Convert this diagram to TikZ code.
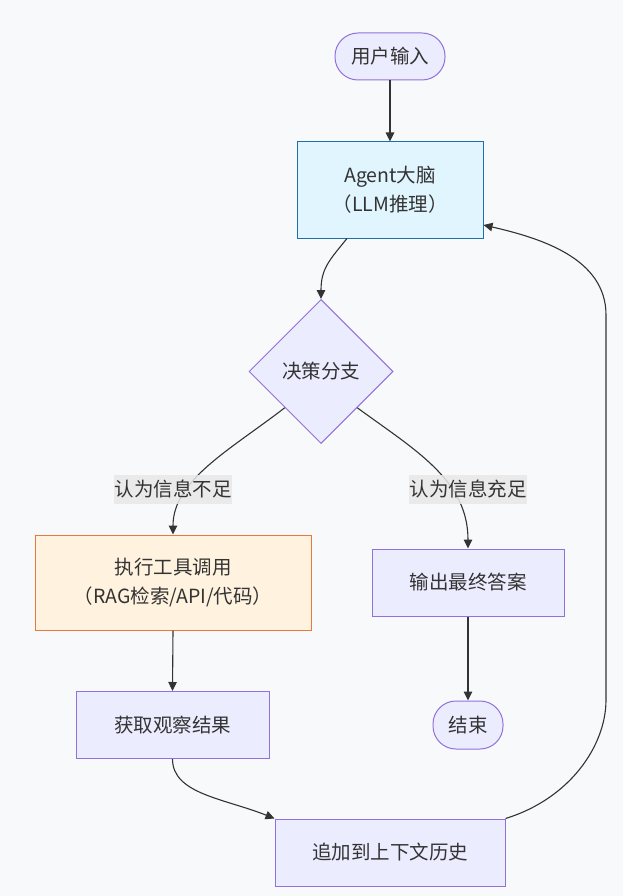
\documentclass[tikz,border=0pt]{standalone}
\usepackage{fontspec}
\setmainfont{Noto Sans CJK SC}
\usetikzlibrary{shapes.geometric,arrows.meta}
\definecolor{bgc}{HTML}{F8F9FB}
\definecolor{pfill}{HTML}{ECECFF}
\definecolor{pline}{HTML}{9370DB}
\definecolor{bfill}{HTML}{E1F5FE}
\definecolor{bline}{HTML}{1F6EAB}
\definecolor{ofill}{HTML}{FFF3E0}
\definecolor{oline}{HTML}{E8793A}
\definecolor{txt}{HTML}{333333}
\definecolor{lblbg}{HTML}{E8E8E8}
\tikzset{
  base/.style={text=txt, font=\fontsize{19.5}{29}\selectfont, align=center, inner sep=0pt, line width=1pt},
  pbox/.style={base, draw=pline, fill=pfill, rectangle},
  stadium/.style={pbox, rounded corners=23pt},
  brainbox/.style={base, draw=bline, fill=bfill, rectangle},
  toolbox/.style={base, draw=oline, fill=ofill, rectangle},
  decbox/.style={base, draw=pline, fill=pfill, diamond, aspect=1},
  lbl/.style={text=txt, font=\fontsize{19.5}{22}\selectfont, fill=lblbg, fill opacity=0.85, text opacity=1, inner sep=0pt, minimum height=29pt, minimum width=118pt},
  arr/.style={draw=txt, line width=1.1pt, -{Triangle[length=9pt,width=8.5pt]}},
}
\begin{document}
\begin{tikzpicture}[x=1pt,y=-1pt]
\fill[bgc] (0,0) rectangle (623,896);
\useasboundingbox (0,0) rectangle (623,896);

\node[stadium, minimum width=110pt, minimum height=47pt] (input) at (390,56.5) {用户输入};
\node[brainbox, minimum width=186pt, minimum height=96pt] (agent) at (390,190) {Agent大脑\\（LLM推理）};
\node[decbox, minimum width=144pt, minimum height=144pt] (dec) at (321,371.5) {决策分支};
\node[toolbox, minimum width=276pt, minimum height=95pt] (exec) at (173,582.5) {执行工具调用\\（RAG检索/API/代码）};
\node[pbox, minimum width=192pt, minimum height=67pt] (out) at (468,582.5) {输出最终答案};
\node[stadium, minimum width=70pt, minimum height=48pt] (end) at (468,725) {结束};
\node[pbox, minimum width=193pt, minimum height=67pt] (obs) at (172.5,725) {获取观察结果};
\node[pbox, minimum width=230pt, minimum height=67pt] (hist) at (390,852.5) {追加到上下文历史};

\draw[arr] (input.south) -- (agent.north);
\draw[arr] ([xshift=-43pt]agent.south) .. controls +(-18,22) and +(0,-30) .. (dec.north);
\draw[arr] (dec.south west) .. controls (230,450) and (173,480) .. (exec.north);
\draw[arr] (dec.south east) .. controls (415,450) and (468,480) .. (out.north);
\draw[arr] (out.south) -- (end.north);
\draw[arr] (exec.south) -- (obs.north);
\draw[arr] (obs.south) .. controls +(0,35) and +(-50,-20) .. (hist.north west);
\draw[arr] (hist.north east) .. controls +(65,-20) and +(0,45) .. (606,700) -- (606,315) .. controls (606,258) and (540,238) .. ([yshift=-35pt]agent.east);

\node[lbl] (l1) at (173,489.5) {认为信息不足};
\node[lbl] (l2) at (468,489.5) {认为信息充足};
\end{tikzpicture}
\end{document}
